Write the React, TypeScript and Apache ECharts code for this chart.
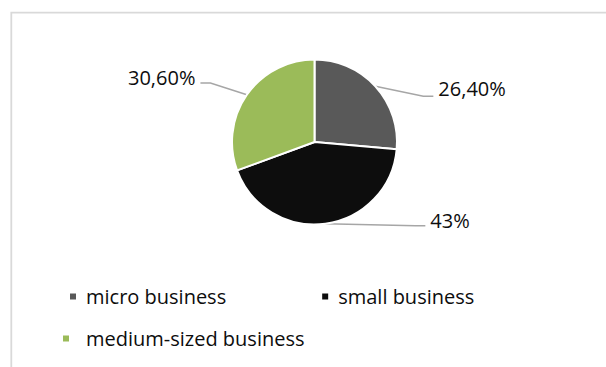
import React, { useEffect, useRef } from "react";
import * as echarts from "echarts";

// ---- data ----
const categories = ["micro business", "small business", "medium-sized business"];
const shares = [26.4, 43, 30.6];
const shareLabels = ["26,40%", "43%", "30,60%"];

// ---- styles ----
const sliceColors = ["#595959", "#0d0d0d", "#9bbb59"];
const leaderStyle = [
  { length: 0, length2: 58, dy: 2, drop: 8 },
  { length: 0, length2: 100, dy: -3, drop: 5 },
  { length: 31, length2: 21, dy: 0, drop: 6 },
];
const FONT = "'Open Sans', 'Noto Sans', sans-serif";
const TEXT = "#0d0d0d";
const ICON = "path://M0,0L8,0L8,8L0,8Z";

export default function App() {
  const ref = useRef<HTMLDivElement>(null);

  useEffect(() => {
    if (!ref.current) return;
    const chart = echarts.init(ref.current, null, { renderer: "svg" });

    const data = categories.map((name, i) => ({
      name,
      value: shares[i],
      itemStyle: { color: sliceColors[i] },
      labelLine: { length: leaderStyle[i].length, length2: leaderStyle[i].length2 },
    }));

    chart.setOption({
      animation: false,
      backgroundColor: "#ffffff",
      graphic: [
        {
          type: "rect",
          z: -10,
          shape: { x: 11.3, y: 12.7, width: 700, height: 500 },
          style: { fill: "none", stroke: "#d9d9d9", lineWidth: 1.8 },
          silent: true,
        },
      ],
      legend: [
        {
          data: [categories[0], categories[1]],
          left: 63,
          top: 281.5,
          orient: "horizontal",
          icon: ICON,
          itemWidth: 16,
          itemHeight: 8,
          itemGap: 94,
          selectedMode: false,
          textStyle: { fontFamily: FONT, fontSize: 20, color: TEXT },
        },
        {
          data: [categories[2]],
          left: 56,
          top: 323.5,
          orient: "horizontal",
          icon: ICON,
          itemWidth: 30,
          itemHeight: 8,
          selectedMode: false,
          textStyle: { fontFamily: FONT, fontSize: 20, color: TEXT },
        },
      ],
      series: [
        {
          type: "pie",
          center: [314.5, 142],
          radius: 82.5,
          startAngle: 90,
          clockwise: true,
          avoidLabelOverlap: false,
          silent: true,
          itemStyle: { borderColor: "#ffffff", borderWidth: 2 },
          emphasis: { disabled: true },
          label: {
            show: true,
            position: "outside",
            formatter: (p: any) => shareLabels[p.dataIndex],
            fontFamily: FONT,
            fontSize: 20,
            color: TEXT,
            distanceToLabelLine: 5,
          },
          labelLine: {
            show: true,
            smooth: false,
            lineStyle: { color: "#a6a6a6", width: 1.5 },
          },
          labelLayout: (params: any) => {
            const s = leaderStyle[params.dataIndex];
            const r = params.labelRect;
            const pts = params.labelLinePoints;
            if (!pts || !r) return {};
            const p0 = pts[0];
            const cy = r.y + r.height / 2 + s.dy;
            const right = r.x > p0[0];
            const endX = right ? r.x - 5 : r.x + r.width + 5;
            const elbowX = right ? endX - 10 : endX + 10;
            const ly = cy + s.drop;
            return {
              dy: s.dy,
              labelLinePoints: [
                [p0[0], p0[1]],
                [elbowX, ly],
                [endX, ly],
              ],
            };
          },
          data,
        },
      ],
    });

    return () => chart.dispose();
  }, []);

  return (
    <div
      ref={ref}
      style={{ position: "absolute", left: 0, top: 0, width: 606, height: 367 }}
    />
  );
}
